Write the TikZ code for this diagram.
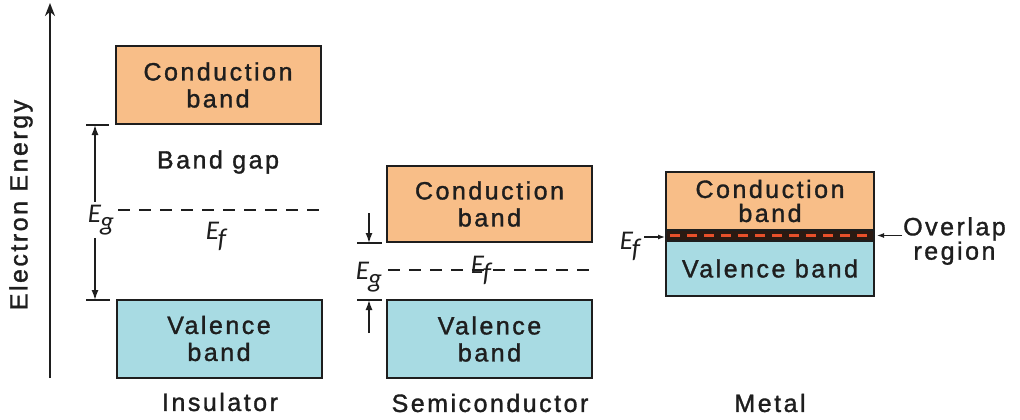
\documentclass[tikz,border=0pt]{standalone}
\usepackage{fontspec}
\setmainfont{Liberation Sans}[LetterSpace=10,FakeBold=1.3]
\newfontfamily\efont{Carlito}
\usetikzlibrary{arrows.meta}
\definecolor{cbfill}{HTML}{F8BE88}
\definecolor{vbfill}{HTML}{A8DBE3}
\definecolor{ink}{HTML}{1E1E1E}
\definecolor{ovdark}{HTML}{2B1A12}
\definecolor{ovred}{HTML}{E8502A}
\newcommand\Elab[1]{{\efont\itshape\fontsize{27}{27}\selectfont E\kern-1pt\raisebox{-8pt}{#1}}}
\tikzset{
  txt/.style={text=ink,font=\fontsize{25}{27}\selectfont,inner sep=0pt,align=center},
  band/.style={txt,draw=ink,line width=2pt,rectangle,minimum width=#1},
  cbbox/.style={band=205,fill=cbfill},
  vbbox/.style={band=205,fill=vbfill},
  elab/.style={text=ink,inner sep=0pt},
  fermi/.style={draw=ink,line width=2pt,dash pattern=on 12pt off 9pt},
  gaparrow/.style={draw=ink,line width=1.5pt,-{Latex[length=10pt,width=7pt]}},
  tick/.style={draw=ink,line width=1.6pt},
}
\begin{document}
\begin{tikzpicture}[x=1pt,y=-1pt]
\useasboundingbox[fill=white] (0,0) rectangle (1020,420);

% energy axis
\coordinate (axb) at (50,378);
\coordinate (axt) at (50,3);
\draw[draw=ink,line width=2.5pt,-{Stealth[length=13pt,width=10pt]}] (axb) -- (axt);
\node[txt,rotate=90] (axlab) at (21,205) {Electron Energy};

% ---------------- Insulator ----------------
\node[cbbox,minimum height=78pt] (icb) at (218,85) {Conduction\\band};
\node[vbbox,minimum height=78pt] (ivb) at (219,338.5) {Valence\\band};
\node[txt] (bgap) at (218,162) {Band gap};
\node[txt] (ins) at (220,402) {Insulator};
\coordinate (it1a) at (86,125);
\coordinate (it1b) at (109,125);
\coordinate (it2a) at (86,300);
\coordinate (it2b) at (110,300);
\draw[tick] (it1a) -- (it1b);
\draw[tick] (it2a) -- (it2b);
\coordinate (ia) at (95,125);
\coordinate (ib) at (95,300);
\node[elab] (ieg) at (101,220) {\Elab{g}};
\draw[gaparrow] (ia |- ieg.north) ++(0,-3) -- (ia);
\draw[gaparrow] (ib |- ieg.south) ++(0,3) -- (ib);
\coordinate (if1) at (118,210);
\coordinate (if2) at (326,210);
\draw[fermi] (if1) -- (if2);
\node[elab] (ief) at (216,236) {\Elab{f}};

% ---------------- Semiconductor ----------------
\node[cbbox,minimum height=76pt] (scb) at (489.5,204) {Conduction\\band};
\node[vbbox,minimum height=78pt] (svb) at (489.5,339) {Valence\\band};
\node[txt] (semi) at (490,403) {Semiconductor};
\coordinate (st1a) at (357,243);
\coordinate (st1b) at (382,243);
\coordinate (st2a) at (357,300);
\coordinate (st2b) at (382,300);
\draw[tick] (st1a) -- (st1b);
\draw[tick] (st2a) -- (st2b);
\coordinate (sa0) at (369,213);
\coordinate (sa1) at (369,243);
\coordinate (sb0) at (369,333);
\coordinate (sb1) at (369,300);
\draw[gaparrow] (sa0) -- (sa1);
\draw[gaparrow] (sb0) -- (sb1);
\node[elab] (seg) at (369,277) {\Elab{g}};
\coordinate (sf1) at (388,270);
\coordinate (sf2) at (593,270);
\draw[fermi] (sf1) -- (sf2);
\node[elab] (sef) at (481,270) {\Elab{f}};

% ---------------- Metal ----------------
\node[band=208,fill=cbfill,minimum height=58pt] (mcb) at (770,201) {Conduction\\[-3pt]band};
\node[band=208,fill=vbfill,minimum height=55pt] (mvb) at (770,268.5) {Valence band};
\node[draw=ink,fill=ovdark,line width=2pt,minimum width=208pt,minimum height=11pt,inner sep=0pt] (ovl) at (770,235.5) {};
\draw[ovred,line width=3.5pt,dash pattern=on 10pt off 7pt,shorten <=5pt,shorten >=5pt] (ovl.west) -- (ovl.east);
\node[txt] (metal) at (770,403) {Metal};
\node[elab] (mef) at (630,246) {\Elab{f}};
\coordinate (mefa) at (644,237);
\draw[gaparrow,line width=1.2pt,-{Latex[length=7pt,width=5pt]}] (mefa) -- (mefa -| ovl.west);
\node[txt,anchor=west,font=\fontsize{25}{23}\selectfont] (ovlab) at (903,241) {Overlap\\region};
\draw[gaparrow,line width=1.2pt,-{Latex[length=7pt,width=5pt]}] (ovlab.west |- ovl.east) ++(-1,0) -- ([xshift=2pt]ovl.east);
\end{tikzpicture}
\end{document}
